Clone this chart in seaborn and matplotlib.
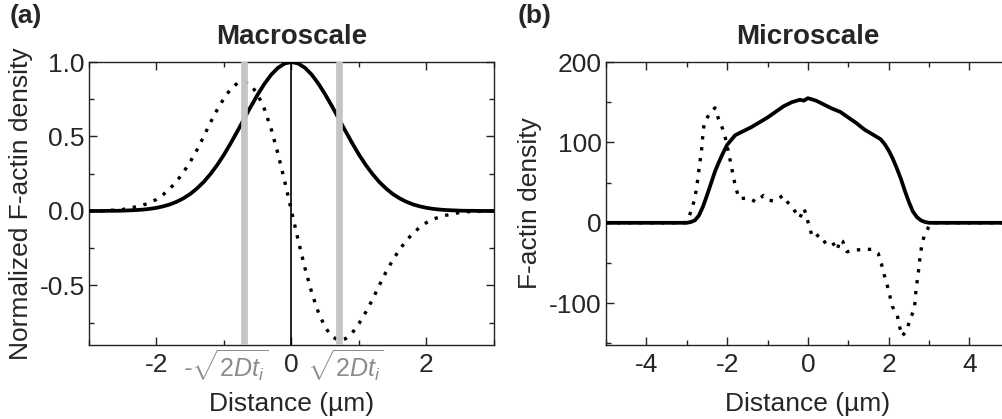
import numpy as np
import pandas as pd
import matplotlib
matplotlib.use('Agg')
import matplotlib.pyplot as plt
import seaborn as sns
from matplotlib.ticker import MultipleLocator

# ── Data: (a) macroscale, normalized profiles ─────────────────
x_macro = [-3.0, -2.9, -2.8, -2.7, -2.6, -2.5, -2.4, -2.3, -2.2, -2.1,
           -2.0, -1.9, -1.8, -1.7, -1.6, -1.5, -1.4, -1.3, -1.2, -1.1,
           -1.0, -0.9, -0.8, -0.7, -0.6, -0.5, -0.4, -0.3, -0.2, -0.1,
           0.0, 0.1, 0.2, 0.3, 0.4, 0.5, 0.6, 0.7, 0.8, 0.9,
           1.0, 1.1, 1.2, 1.3, 1.4, 1.5, 1.6, 1.7, 1.8, 1.9,
           2.0, 2.1, 2.2, 2.3, 2.4, 2.5, 2.6, 2.7, 2.8, 2.9, 3.0]
density_macro = [0.000, 0.000, 0.000, 0.001, 0.001, 0.002, 0.004, 0.006, 0.009, 0.014,
                 0.021, 0.031, 0.044, 0.062, 0.085, 0.114, 0.151, 0.195, 0.248, 0.309,
                 0.378, 0.455, 0.536, 0.620, 0.703, 0.782, 0.854, 0.915, 0.961, 0.990,
                 1.000, 0.990, 0.961, 0.915, 0.854, 0.782, 0.703, 0.620, 0.536, 0.455,
                 0.378, 0.309, 0.248, 0.195, 0.151, 0.114, 0.085, 0.062, 0.044, 0.031,
                 0.021, 0.014, 0.009, 0.006, 0.004, 0.002, 0.001, 0.001, 0.000, 0.000, 0.000]
change_macro = [0.000, 0.000, 0.002, 0.005, 0.005, 0.010, 0.019, 0.028, 0.040, 0.054,
                0.078, 0.110, 0.150, 0.200, 0.260, 0.330, 0.410, 0.500, 0.595, 0.680,
                0.756, 0.819, 0.858, 0.868, 0.844, 0.782, 0.683, 0.549, 0.384, 0.198,
                0.000, -0.198, -0.384, -0.549, -0.683, -0.782, -0.844, -0.868, -0.858, -0.819,
                -0.756, -0.680, -0.595, -0.500, -0.410, -0.330, -0.260, -0.200, -0.150, -0.110,
                -0.078, -0.054, -0.040, -0.028, -0.019, -0.010, -0.005, -0.005, -0.002, 0.000, 0.000]
sqrt_2dt = 0.71

# ── Data: (b) microscale profiles ─────────────────────────────
x_micro = [-5.0, -3.0, -2.9, -2.8, -2.7, -2.6, -2.5, -2.4, -2.3, -2.2,
           -2.1, -2.0, -1.9, -1.8, -1.6, -1.4, -1.2, -1.0, -0.8, -0.6,
           -0.4, -0.2, -0.1, 0.0, 0.2, 0.4, 0.6, 0.8, 1.0, 1.2,
           1.4, 1.6, 1.8, 1.9, 2.0, 2.1, 2.2, 2.3, 2.4, 2.5,
           2.6, 2.7, 2.8, 2.9, 3.0, 5.0]
density_micro = [0, 0, 1, 3, 9, 20, 34, 49, 64, 76,
                 87, 97, 103, 109, 114, 119, 125, 131, 138, 145,
                 150, 153, 152, 155, 152, 147, 142, 138, 131, 124,
                 116, 110, 104, 98, 90, 80, 68, 55, 40, 26,
                 14, 7, 3, 1, 0, 0]

x_change = [-5.0, -3.05, -2.96, -2.88, -2.80, -2.76, -2.72, -2.69, -2.65, -2.62,
            -2.60, -2.57, -2.44, -2.30, -2.22, -2.12, -2.06, -1.95, -1.84, -1.79,
            -1.70, -1.47, -1.29, -1.10, -0.95, -0.84, -0.70, -0.62, -0.51, -0.36,
            -0.20, -0.10, -0.03, 0.03, 0.11, 0.21, 0.38, 0.48, 0.59, 0.73,
            0.79, 0.86, 0.97, 1.16, 1.40, 1.57, 1.74, 1.82, 1.89, 1.96,
            2.03, 2.09, 2.21, 2.26, 2.33, 2.45, 2.52, 2.63, 2.66, 2.68,
            2.72, 2.75, 2.78, 2.82, 2.89, 3.03, 3.10, 5.0]
change_micro = [0, 0, 5, 17, 30, 43, 57, 70, 84, 97,
                111, 123, 136, 143, 130, 118, 109, 84, 56, 44,
                30, 31, 26, 34, 28, 27, 31, 34, 26, 17,
                6, 18, 8, -5, -17, -14, -25, -22, -23, -34,
                -21, -23, -36, -34, -33, -33, -38, -51, -65, -77,
                -91, -104, -114, -127, -141, -134, -121, -108, -95, -81,
                -68, -55, -41, -28, -14, -2, 0, 0]

# ── Style ─────────────────────────────────────────────────────
sns.set_style('ticks')
plt.rcParams['font.family'] = ['Liberation Sans', 'DejaVu Sans']
plt.rcParams['axes.unicode_minus'] = False
plt.rcParams['mathtext.fontset'] = 'custom'
plt.rcParams['mathtext.rm'] = 'Liberation Sans'
plt.rcParams['mathtext.it'] = 'Liberation Sans:italic'

FS = 19
dots = (0, (1, 2.3))

fig = plt.figure(figsize=(10.02, 4.19), dpi=100)
ax_a = fig.add_axes([0.0888, 0.1766, 0.4042, 0.6754])
ax_b = fig.add_axes([0.6048, 0.1766, 0.4030, 0.6754])

for ax in (ax_a, ax_b):
    ax.tick_params(which='both', direction='in', top=True, right=True,
                   labelsize=FS, color='#222222', width=1.0)
    ax.tick_params(which='major', length=5.5, pad=6)
    ax.tick_params(which='minor', length=3.5)
    ax.tick_params(axis='y', pad=3)
    for s in ax.spines.values():
        s.set_color('#222222'); s.set_linewidth(1.0)

# ── (a) Macroscale ────────────────────────────────────────────
df_a = pd.DataFrame({'x': x_macro, 'density': density_macro, 'change': change_macro})
sns.lineplot(data=df_a, x='x', y='change', ax=ax_a, color='black', lw=2.4,
             linestyle=dots, sort=False, zorder=2)
sns.lineplot(data=df_a, x='x', y='density', ax=ax_a, color='black', lw=2.7,
             sort=False, zorder=3)
ax_a.axvline(0, color='black', lw=1.2, zorder=4)
for xv in (-sqrt_2dt, sqrt_2dt):
    ax_a.axvline(xv, color='#c4c4c4', lw=4.8, zorder=5)

ax_a.set_xlim(-3, 3); ax_a.set_ylim(-0.9, 1.0)
ax_a.xaxis.set_major_locator(MultipleLocator(2)); ax_a.xaxis.set_minor_locator(MultipleLocator(1))
ax_a.yaxis.set_major_locator(MultipleLocator(0.5)); ax_a.yaxis.set_minor_locator(MultipleLocator(0.25))
ax_a.set_yticks([-0.5, 0.0, 0.5, 1.0])
ax_a.set_yticklabels(['-0.5', '0.0', '0.5', '1.0'])
ax_a.set_xticks([-2, 0, 2])
ax_a.set_xticklabels(['-2', '0', '2'])

trans = ax_a.get_xaxis_transform()
ax_a.text(-0.98, -0.075, r'-$\sqrt{\mathit{2Dt}_\mathit{i}}$', transform=trans, ha='center',
          va='center', fontsize=18, color='#8c8c8c', style='italic')
ax_a.text(0.8, -0.075, r'$\sqrt{\mathit{2Dt}_\mathit{i}}$', transform=trans, ha='center',
          va='center', fontsize=18, color='#8c8c8c')

ax_a.set_title('Macroscale', fontsize=20, fontweight='bold', pad=13)
ax_a.set_xlabel('Distance (µm)', fontsize=FS)
ax_a.set_ylabel('Normalized F-actin density', fontsize=FS)
ax_a.xaxis.set_label_coords(0.5, -0.165)
ax_a.yaxis.set_label_coords(-0.137, 0.5)

# ── (b) Microscale ────────────────────────────────────────────
df_b1 = pd.DataFrame({'x': x_micro, 'density': density_micro})
df_b2 = pd.DataFrame({'x': x_change, 'change': change_micro})
sns.lineplot(data=df_b2, x='x', y='change', ax=ax_b, color='black', lw=2.4,
             linestyle=dots, sort=False, zorder=2)
sns.lineplot(data=df_b1, x='x', y='density', ax=ax_b, color='black', lw=2.7,
             sort=False, zorder=3)

ax_b.set_xlim(-5, 5); ax_b.set_ylim(-152, 200)
ax_b.xaxis.set_major_locator(MultipleLocator(2)); ax_b.xaxis.set_minor_locator(MultipleLocator(1))
ax_b.yaxis.set_major_locator(MultipleLocator(100)); ax_b.yaxis.set_minor_locator(MultipleLocator(50))
ax_b.set_title('Microscale', fontsize=20, fontweight='bold', pad=13)
ax_b.set_xlabel('Distance (µm)', fontsize=FS)
ax_b.set_ylabel('F-actin density', fontsize=FS)
ax_b.xaxis.set_label_coords(0.5, -0.165)
ax_b.yaxis.set_label_coords(-0.158, 0.5)

fig.text(0.010, 0.99, '(a)', fontsize=FS, fontweight='bold', va='top', ha='left')
fig.text(0.517, 0.99, '(b)', fontsize=FS, fontweight='bold', va='top', ha='left')

fig.savefig('out.png', dpi=100)
plt.close(fig)
